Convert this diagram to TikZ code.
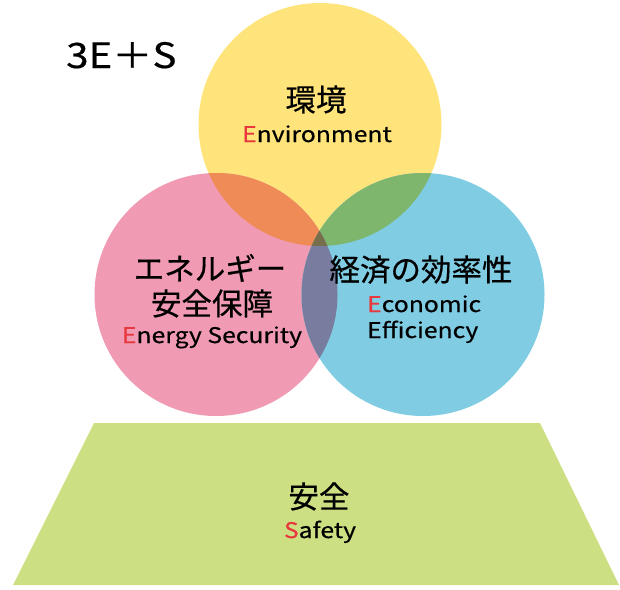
\documentclass[tikz,border=0pt]{standalone}
\usepackage{fontspec}
\setmainfont[FakeBold=0.5]{Noto Sans CJK JP}
\newfontfamily\latfont[FakeStretch=1.15, FakeBold=0.5]{Noto Sans CJK JP}
\definecolor{cY}{HTML}{FEE47A}
\definecolor{cP}{HTML}{F09BB3}
\definecolor{cB}{HTML}{80CCE3}
\definecolor{cYP}{HTML}{EF8B56}
\definecolor{cYB}{HTML}{7FB66D}
\definecolor{cPB}{HTML}{787C9F}
\definecolor{cYPB}{HTML}{776F4C}
\definecolor{cG}{HTML}{CCDF82}
\definecolor{eRed}{HTML}{E8383D}
\tikzset{
  jp/.style={inner sep=0pt, anchor=base, font=\fontsize{30.5}{33}\selectfont},
  en/.style={inner sep=0pt, anchor=base, font=\latfont\fontsize{21.5}{24}\selectfont},
}
\newcommand{\R}[1]{{\color{eRed}#1}}
\begin{document}
\begin{tikzpicture}[x=1pt,y=-1pt]
\useasboundingbox (0,0) rectangle (620,589);
\def\Yc{(320,124.5) circle[radius=121.5]}
\def\Pc{(216,294.5) circle[radius=121.5]}
\def\Bc{(423,294.5) circle[radius=121.5]}
\fill[cY] \Yc;
\fill[cP] \Pc;
\fill[cB] \Bc;
\begin{scope}\clip \Yc; \fill[cYP] \Pc; \fill[cYB] \Bc; \end{scope}
\begin{scope}\clip \Pc; \fill[cPB] \Bc; \end{scope}
\begin{scope}\clip \Yc; \clip \Pc; \fill[cYPB] \Bc; \end{scope}
\fill[cG] (94,423) -- (540,423) -- (619,585) -- (13,585) -- cycle;
\node[inner sep=0pt, anchor=base west, font=\latfont\fontsize{35}{38}\selectfont] (title) at (66,68) {3E＋S};
\node[jp] (env) at (316,111) {環境};
\node[en] (envE) at (317,142) {\R{E}nvironment};
\node[jp] (es1) at (210,280) {エネルギー};
\node[jp] (es2) at (212,315) {安全保障};
\node[en] (esE) at (212,343) {\R{E}nergy Security};
\node[jp] (ec) at (421,281) {経済の効率性};
\node[en, anchor=base west] (ecE1) at (367,312) {\R{E}conomic};
\node[en, anchor=base west] (ecE2) at (367,338) {Efficiency};
\node[jp] (sf) at (319,508) {安全};
\node[en] (sfE) at (320,538) {\R{S}afety};
\end{tikzpicture}
\end{document}
